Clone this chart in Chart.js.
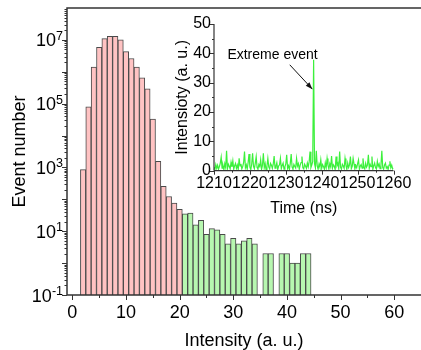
<!DOCTYPE html>
<html>
<head>
<meta charset="utf-8">
<script src="https://cdn.jsdelivr.net/npm/chart.js@4.4.1/dist/chart.umd.min.js"></script>
<style>
  html, body { margin: 0; padding: 0; background: #fff; }
  #wrap { position: relative; width: 421px; height: 350px; }
  #wrap canvas { position: absolute; left: 0; top: 0; }
</style>
</head>
<body>
<div id="wrap">
  <canvas id="histChart" width="421" height="350"></canvas>
  <canvas id="insetChart" width="421" height="350"></canvas>
</div>
<script>
// --- histogram data (intensity bins, event counts; null = empty bin) ---
const intensityBins = [2, 3, 4, 5, 6, 7, 8, 9, 10, 11, 12, 13, 14, 15, 16, 17, 18, 19, 20,
  21, 22, 23, 24, 25, 26, 27, 28, 29, 30, 31, 32, 33, 34, 35, 36, 37, 38, 39, 40, 41, 42, 43, 44];
const eventCounts = [850, 8e4, 1.4e6, 5.8e6, 1.1e7, 1.3e7, 1.3e7, 1.0e7, 4.3e6, 2.6e6, 1.4e6, 6.5e5, 2.9e5, 3.3e4, 1550, 257, 123, 76, 49,
  35, 37, 16, 22, 8, 12, 11, 8, 4, 6, 4, 5, 6, 4, null, 2, 2, null, 2, 2, 1, 1, 2, 2];
const extremeFromBin = 21;

const xTickValues = [0, 10, 20, 30, 40, 50, 60];
const xMinorValues = [5, 15, 25, 35, 45, 55];
const yTickExponents = [-1, 1, 3, 5, 7];

// --- inset time trace (sampled every 0.25 ns from 1210 ns) ---
const insetStartNs = 1210;
const insetStepNs = 0.25;
const insetIntensity = [
  1.2, 0.4, 2.1, 0.8, 1.9, 0.5, 1.4, 2.6, 4.6, 0.9,
  1.8, 0.3, 2.4, 1.1, 6.8, 0.7, 2.2, 1.5, 0.6, 2.9,
  1.3, 3.4, 0.5, 1.7, 2.5, 0.8, 1.9, 0.4, 4.2, 1.6,
  2.3, 0.6, 1.4, 2.8, 6.5, 1.0, 2.0, 0.5, 2.7, 5.7,
  1.2, 0.4, 2.2, 5.9, 1.5, 0.7, 2.6, 4.8, 1.1, 0.6,
  2.1, 1.4, 3.7, 0.5, 1.8, 5.9, 1.0, 2.4, 0.3, 1.6,
  4.2, 1.3, 0.6, 2.5, 1.9, 0.8, 2.2, 5.0, 0.9, 1.5,
  2.7, 0.4, 1.6, 2.0, 4.2, 0.7, 1.8, 2.6, 0.5, 1.3,
  2.3, 5.4, 0.8, 1.7, 0.4, 2.5, 5.7, 1.2, 0.6, 2.1,
  1.4, 0.9, 4.2, 1.6, 2.4, 0.5, 1.9, 2.8, 4.8, 1.0,
  0.6, 2.2, 1.5, 0.8, 2.6, 1.3, 3.0, 6.5, 1.1, 2.0,
  3.2, 37.8, 2.4, 1.0, 6.8, 1.6, 0.5, 2.3, 1.2, 3.7,
  0.8, 2.1, 1.4, 0.5, 2.7, 1.0, 4.2, 1.8, 0.6, 2.4,
  1.3, 5.0, 0.9, 2.0, 1.5, 0.4, 4.8, 1.7, 2.5, 0.7,
  6.5, 1.2, 0.5, 2.2, 1.6, 0.8, 4.2, 1.9, 0.4, 2.6,
  1.1, 2.0, 4.8, 0.7, 1.5, 4.2, 2.3, 0.6, 1.8, 1.0,
  2.4, 3.7, 0.5, 1.6, 2.1, 0.9, 4.2, 1.3, 0.6, 2.5,
  1.2, 1.9, 5.4, 0.8, 2.2, 1.4, 4.8, 0.5, 1.7, 2.6,
  1.0, 0.6, 3.2, 1.5, 2.3, 0.7, 1.8, 6.8, 1.1, 0.5,
  2.0, 2.6, 0.9, 1.4, 0.4, 1.9, 3.2, 1.0, 1.9, 0.6,
  0.8
];
const insetTimeTicks = [1210, 1220, 1230, 1240, 1250, 1260];
const insetIntensityTicks = [0, 10, 20, 30, 40, 50];

const FONT = '"Liberation Sans", Arial, sans-serif';
const AXIS_COLOR = '#333';

function drawLine(ctx, x1, y1, x2, y2) {
  ctx.beginPath();
  ctx.moveTo(x1, y1);
  ctx.lineTo(x2, y2);
  ctx.stroke();
}

// axes, ticks and labels for the main histogram
const histAxes = {
  id: 'histAxes',
  afterDraw(chart) {
    const { ctx, chartArea: a, scales: { x, y } } = chart;
    ctx.save();
    ctx.strokeStyle = AXIS_COLOR;
    ctx.lineWidth = 1.5;
    // frame: the right side runs off the picture, so only three sides
    ctx.beginPath();
    ctx.moveTo(chart.width, a.top);
    ctx.lineTo(a.left, a.top);
    ctx.lineTo(a.left, a.bottom);
    ctx.lineTo(chart.width, a.bottom);
    ctx.stroke();

    ctx.lineWidth = 1;
    xTickValues.forEach(v => {
      const px = Math.round(x.getPixelForValue(v)) + 0.5;
      drawLine(ctx, px, a.bottom, px, a.bottom + 5);
    });
    xMinorValues.forEach(v => {
      const px = Math.round(x.getPixelForValue(v)) + 0.5;
      drawLine(ctx, px, a.bottom, px, a.bottom + 3);
    });
    for (let e = -1; e <= 7; e++) {
      for (let m = 1; m <= 9; m++) {
        const v = m * Math.pow(10, e);
        if (v > y.max) continue;
        const py = Math.round(y.getPixelForValue(v)) + 0.5;
        const len = m === 1 ? 5 : 2.5;
        drawLine(ctx, a.left - len, py, a.left, py);
      }
    }

    ctx.fillStyle = '#000';
    ctx.font = `18px ${FONT}`;
    ctx.textAlign = 'center';
    ctx.textBaseline = 'alphabetic';
    xTickValues.forEach(v => ctx.fillText(String(v), x.getPixelForValue(v), a.bottom + 23));

    ctx.textAlign = 'right';
    yTickExponents.forEach(e => {
      const py = y.getPixelForValue(Math.pow(10, e));
      const exp = String(e);
      ctx.font = `12.5px ${FONT}`;
      const ew = ctx.measureText(exp).width;
      ctx.fillText(exp, a.left - 4, py);
      ctx.font = `18px ${FONT}`;
      ctx.fillText('10', a.left - 4 - ew, py + 6.5);
    });

    ctx.textAlign = 'center';
    ctx.font = `18px ${FONT}`;
    ctx.fillText('Intensity (a. u.)', (a.left + a.right) / 2, 345.5);
    ctx.save();
    ctx.translate(24.5, (a.top + a.bottom) / 2);
    ctx.rotate(-Math.PI / 2);
    ctx.fillText('Event number', 0, 0);
    ctx.restore();
    ctx.restore();
  }
};

// axes, labels and the "Extreme event" arrow for the inset
const insetAxes = {
  id: 'insetAxes',
  afterDraw(chart) {
    const { ctx, chartArea: a, scales: { x, y } } = chart;
    ctx.save();
    ctx.strokeStyle = AXIS_COLOR;
    ctx.lineWidth = 1.2;
    drawLine(ctx, a.left, a.top, a.left, a.bottom);
    drawLine(ctx, a.left, a.bottom, a.right, a.bottom);

    ctx.lineWidth = 1;
    insetTimeTicks.forEach((v, i) => {
      const px = Math.round(x.getPixelForValue(v)) + 0.5;
      drawLine(ctx, px, a.bottom, px, a.bottom + 4);
      if (i < insetTimeTicks.length - 1) {
        const pm = Math.round(x.getPixelForValue(v + 5)) + 0.5;
        drawLine(ctx, pm, a.bottom, pm, a.bottom + 2);
      }
    });
    insetIntensityTicks.forEach((v, i) => {
      const py = Math.round(y.getPixelForValue(v)) + 0.5;
      drawLine(ctx, a.left - 4, py, a.left, py);
      if (i < insetIntensityTicks.length - 1) {
        const pm = Math.round(y.getPixelForValue(v + 5)) + 0.5;
        drawLine(ctx, a.left - 2, pm, a.left, pm);
      }
    });

    ctx.fillStyle = '#000';
    ctx.font = `16px ${FONT}`;
    ctx.textAlign = 'center';
    ctx.textBaseline = 'alphabetic';
    insetTimeTicks.forEach(v => ctx.fillText(String(v), x.getPixelForValue(v), a.bottom + 17));
    ctx.textAlign = 'right';
    ctx.textBaseline = 'middle';
    insetIntensityTicks.forEach(v => ctx.fillText(String(v), a.left - 3, y.getPixelForValue(v)));

    ctx.textAlign = 'center';
    ctx.textBaseline = 'alphabetic';
    ctx.fillText('Time (ns)', (a.left + a.right) / 2, 212.5);
    ctx.save();
    ctx.translate(187, (a.top + a.bottom) / 2);
    ctx.rotate(-Math.PI / 2);
    ctx.fillText('Intensioty (a. u.)', 0, 0);
    ctx.restore();

    // annotation
    ctx.font = `14px ${FONT}`;
    ctx.textBaseline = 'middle';
    ctx.fillText('Extreme event', x.getPixelForValue(1226.3), y.getPixelForValue(39.5));
    const x1 = x.getPixelForValue(1231.1), y1 = y.getPixelForValue(36.1);
    const x2 = x.getPixelForValue(1237.4), y2 = y.getPixelForValue(27.8);
    ctx.strokeStyle = '#111';
    ctx.lineWidth = 1;
    drawLine(ctx, x1, y1, x2, y2);
    const ang = Math.atan2(y2 - y1, x2 - x1);
    ctx.beginPath();
    ctx.moveTo(x2, y2);
    ctx.lineTo(x2 - 7 * Math.cos(ang) + 2.5 * Math.sin(ang), y2 - 7 * Math.sin(ang) - 2.5 * Math.cos(ang));
    ctx.lineTo(x2 - 7 * Math.cos(ang) - 2.5 * Math.sin(ang), y2 - 7 * Math.sin(ang) + 2.5 * Math.cos(ang));
    ctx.closePath();
    ctx.fillStyle = '#111';
    ctx.fill();
    ctx.restore();
  }
};

new Chart(document.getElementById('histChart'), {
  type: 'bar',
  data: {
    datasets: [{
      data: intensityBins.map((b, i) => ({ x: b, y: eventCounts[i] })),
      backgroundColor: c => (c.raw && c.raw.x >= extremeFromBin) ? '#b7f7b0' : '#ffc3c3',
      borderColor: '#4a4a4a',
      borderWidth: 1,
      barPercentage: 1,
      categoryPercentage: 1
    }]
  },
  options: {
    responsive: false,
    animation: false,
    devicePixelRatio: 1,
    events: [],
    layout: { padding: { left: 67, top: 8, right: 0, bottom: 55 } },
    plugins: { legend: { display: false }, tooltip: { enabled: false } },
    scales: {
      x: { type: 'linear', min: -1, max: 65, offset: false, display: false },
      y: { type: 'logarithmic', min: 0.1, max: 1e8, display: false }
    }
  },
  plugins: [histAxes]
});

new Chart(document.getElementById('insetChart'), {
  type: 'line',
  data: {
    datasets: [{
      data: insetIntensity.map((v, i) => ({ x: insetStartNs + i * insetStepNs, y: v })),
      borderColor: '#3cf03c',
      borderWidth: 1.2,
      pointRadius: 0,
      tension: 0,
      fill: false
    }]
  },
  options: {
    responsive: false,
    animation: false,
    devicePixelRatio: 1,
    events: [],
    layout: { padding: { left: 214, top: 24, right: 27.5, bottom: 179.3 } },
    plugins: { legend: { display: false }, tooltip: { enabled: false } },
    scales: {
      x: { type: 'linear', min: 1210, max: 1260, display: false },
      y: { min: 0, max: 50, display: false }
    }
  },
  plugins: [insetAxes]
});
</script>
</body>
</html>
